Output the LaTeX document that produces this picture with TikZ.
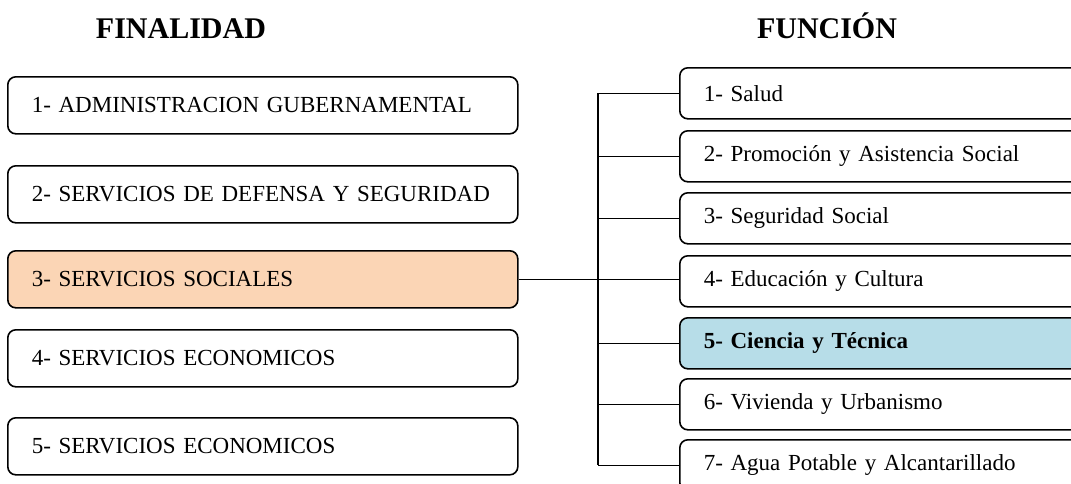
\documentclass[tikz,border=0pt]{standalone}
\usepackage{fontspec}
\setmainfont{Liberation Serif}
\usepackage{tikz}

\definecolor{naranja}{HTML}{FBD5B5}
\definecolor{celeste}{HTML}{B7DDE8}

\tikzset{
  caja/.style={draw, rounded corners=8pt, line width=1.6pt, align=left,
    inner xsep=24pt, anchor=north west, font=\fontsize{23}{27}\selectfont},
  lcaja/.style={caja, minimum width=510pt, minimum height=57pt, text width=462pt},
  rcaja/.style={caja, minimum width=450pt, minimum height=51pt, text width=402pt},
  titulo/.style={anchor=base, font=\fontsize{30}{34}\selectfont\bfseries},
  rama/.style={line width=1.6pt}
}

\begin{document}
\begin{tikzpicture}[x=1pt,y=-1pt]
        \clip(0,0)rectangle(1071,483);

        \node[titulo](fin) at (181,38) {FINALIDAD};
        \node[titulo](fun) at (827,38) {FUNCIÓN};

        \node[lcaja](l1) at (7,76) {1- ADMINISTRACION GUBERNAMENTAL};
        \node[lcaja](l2) at (7,165) {2- SERVICIOS DE DEFENSA Y SEGURIDAD};
        \node[lcaja,fill=naranja](l3) at (7,250) {3- SERVICIOS SOCIALES};
        \node[lcaja](l4) at (7,329) {4- SERVICIOS ECONOMICOS};
        \node[lcaja](l5) at (7,417) {5- SERVICIOS ECONOMICOS};

        \node[rcaja](r1) at (679,67) {1- Salud};
        \node[rcaja](r2) at (679,130) {2- Promoción y Asistencia Social};
        \node[rcaja](r3) at (679,192) {3- Seguridad Social};
        \node[rcaja](r4) at (679,255) {4- Educación y Cultura};
        \node[rcaja,fill=celeste,font=\fontsize{23}{27}\selectfont\bfseries](r5) at (679,317) {5- Ciencia y Técnica};
        \node[rcaja](r6) at (679,378) {6- Vivienda y Urbanismo};
        \node[rcaja](r7) at (679,439) {7- Agua Potable y Alcantarillado};

        \coordinate(eje) at (598,0);
        \draw[rama](l3.east)--(l3.east-|r4.west);
        \draw[rama](eje|-r1.west)--(eje|-r7.west);
        \draw[rama](eje|-r1.west)--(r1.west);
        \draw[rama](eje|-r2.west)--(r2.west);
        \draw[rama](eje|-r3.west)--(r3.west);
        \draw[rama](eje|-r5.west)--(r5.west);
        \draw[rama](eje|-r6.west)--(r6.west);
        \draw[rama](eje|-r7.west)--(r7.west);
    \end{tikzpicture}
\end{document}
